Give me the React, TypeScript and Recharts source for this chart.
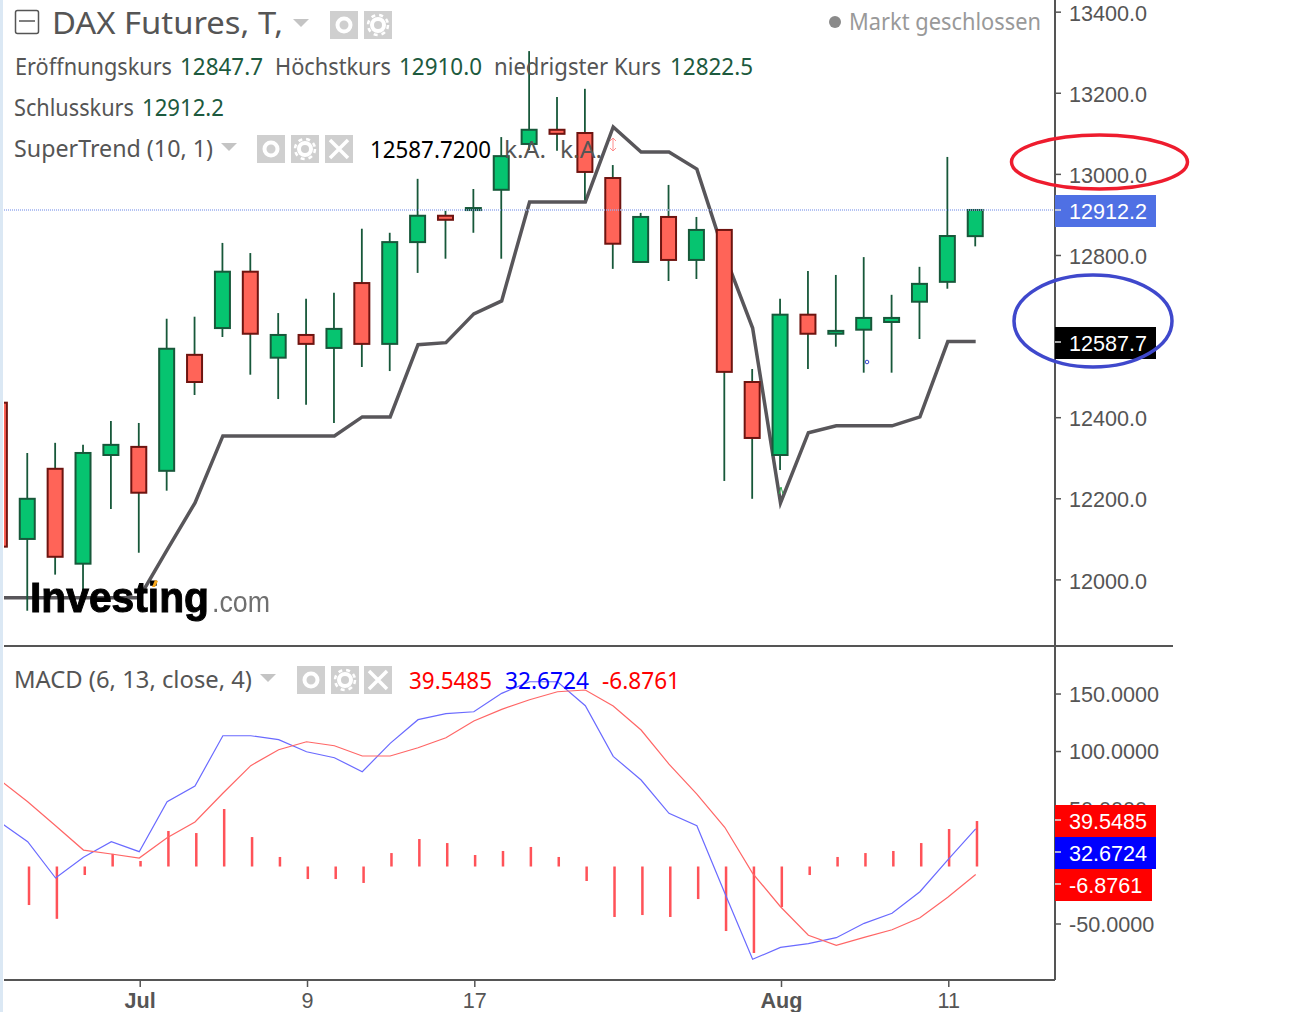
import React from "react"
import { ComposedChart, Bar, Line, XAxis, YAxis, ReferenceLine } from "recharts"

const indexes = [-1, 0, 1, 2, 3, 4, 5, 6, 7, 8, 9, 10, 11, 12, 13, 14, 15, 16, 17, 18, 19, 20, 21, 22, 23, 24, 25, 26, 27, 28, 29, 30, 31, 32, 33, 34]
const opens = [12437, 12101, 12274, 12040, 12308, 12328, 12269, 12555, 12621, 12760, 12548, 12604, 12572, 12732, 12582, 12833, 12898, 12912, 12962, 13075, 13110, 13102, 12991, 12784, 12895, 12789, 12863, 12488, 12308, 12654, 12607, 12617, 12636, 12686, 12735, 12847.7]
const closes = [12082, 12200, 12057, 12313, 12333, 12215, 12570, 12488, 12760, 12607, 12604, 12582, 12619, 12582, 12833, 12898, 12888, 12917, 13045, 13110, 13100, 13006, 12829, 12895, 12789, 12863, 12513, 12350, 12654, 12607, 12614, 12646, 12646, 12730, 12848, 12912.2]
const highs = [12460, 12313, 12338, 12333, 12392, 12387, 12644, 12649, 12831, 12806, 12658, 12693, 12708, 12866, 12856, 12989, 12910, 12964, 13092, 13304, 13191, 13211, 13023, 12905, 12974, 12895, 12863, 12520, 12693, 12762, 12752, 12796, 12703, 12772, 13043, 12912.2]
const lows = [12060, 11924, 12013, 11968, 12175, 12067, 12220, 12456, 12599, 12506, 12446, 12432, 12387, 12525, 12515, 12757, 12792, 12856, 12792, 13060, 13058, 12937, 12767, 12782, 12737, 12742, 12244, 12200, 12271, 12520, 12575, 12511, 12511, 12594, 12718, 12822.5]
const superTrend = [11956, 11956, 11956, 11956, 11956, 11956, 12074, 12190, 12355, 12355, 12355, 12355, 12355, 12402, 12402, 12580, 12585, 12656, 12688, 12932, 12932, 12932, 13117, 13055, 13055, 13013, 12801, 12621, 12190, 12363, 12380, 12380, 12380, 12402, 12587.7, 12587.7]
const macdLine = [38.7, 21.6, -10, 8, 21.6, 12.9, 56.3, 70, 113.7, 113.7, 110.3, 99.8, 94.6, 82.4, 107.1, 127.7, 132.9, 134.6, 150.6, 160.7, 160.7, 139.8, 95.8, 75.2, 46.3, 35.5, -23, -80.7, -70.3, -67.1, -61.9, -49.4, -40.7, -21.9, 5.7, 32.67]
const signalLine = [75.2, 56.3, 35.5, 14.3, 10.9, 7.4, 25, 38.7, 63.7, 87.7, 101.6, 108.5, 105, 96.1, 96.1, 103.3, 112, 126.5, 136.7, 145, 152, 153.5, 139.6, 118.7, 89.1, 63, 34.1, -5.9, -35, -59.8, -68.5, -61.6, -55, -44.5, -26.8, -6.88]
const histogram = [null, -33.5, -45.5, -7.4, 11, 4.8, 30.9, 29.1, 50, 25.6, 8.3, -10.9, -10.9, -14.3, 11.7, 23.9, 20.4, 10, 13.5, 17, 8.3, -12.6, -43.9, -42.2, -43.9, -28.3, -56.1, -75.2, -35.2, -7.4, 8.3, 11.7, 13.5, 20.4, 32.6, 39.55]

const priceTicks = [12000, 12200, 12400, 12800, 13000, 13200, 13400]
const macdTicks = [-50, 50, 100, 150]
const dateTicks = [4, 10, 16, 27, 33]
const dateLabels = ["Jul", "9", "17", "Aug", "11"]
const lastPrice = 12912.2

const candleData = indexes.map((x, i) => ({ x, open: opens[i], close: closes[i], high: highs[i], low: lows[i], trend: superTrend[i] }))
const macdData = indexes.map((x, i) => ({ x, macd: macdLine[i], signal: signalLine[i], hist: histogram[i] }))

const axisColor = "#555555"
const axisFont = "'Liberation Sans', Arial, sans-serif"
const headFont = "'Noto Sans', sans-serif"
const xDomain = [-0.85, 36.845]

const Candle = (props: any) => {
  const { x, y, width, height, payload } = props
  const perUnit = height / (payload.high - payload.low)
  const up = payload.close >= payload.open
  const top = y + (payload.high - Math.max(payload.open, payload.close)) * perUnit
  const bottom = y + (payload.high - Math.min(payload.open, payload.close)) * perUnit
  const cx = x + width / 2
  return (
    <g>
      <line x1={cx} x2={cx} y1={y} y2={y + height} stroke="#17583a" strokeWidth={1.8} />
      <rect
        x={x}
        y={top}
        width={width}
        height={Math.max(bottom - top, 0.5)}
        fill={up ? "#06c470" : "#ff6458"}
        stroke={up ? "#17583a" : "#6e1410"}
        strokeWidth={2}
      />
    </g>
  )
}

// negative values come in with a negative height
const HistBar = (props: any) => {
  const { x, y, width, height } = props
  return <rect x={x + 1} y={Math.min(y, y + height)} width={width} height={Math.abs(height)} fill="#ff5258" />
}

const DateTick = (props: any) => {
  const { x, y, payload } = props
  const label = dateLabels[dateTicks.indexOf(payload.value)]
  const bold = label === "Jul" || label === "Aug"
  return (
    <g>
      <line x1={x + 1} x2={x + 1} y1={y} y2={y + 7} stroke={axisColor} strokeWidth={1.5} />
      <text x={x + 1} y={y + 28} textAnchor="middle" fill={axisColor} fontSize={21.6} fontFamily={axisFont} fontWeight={bold ? 700 : 400}>
        {label}
      </text>
    </g>
  )
}

// text stretched to the width it has in the picture
const Label = ({ x, y, w, size = 24, color = axisColor, font = headFont, children }: any) => (
  <text x={x} y={y} textLength={w} lengthAdjust="spacingAndGlyphs" fontSize={size} fontFamily={font} fill={color}>
    {children}
  </text>
)

const Triangle = ({ x, y }: any) => <polygon points={`${x},${y} ${x + 16},${y} ${x + 8},${y + 8}`} fill="#c4c4c4" />

const IconBox = ({ x, y, kind }: any) => (
  <g>
    <rect x={x} y={y} width={28} height={28} fill="#cfcfcf" />
    {kind === "eye" && <circle cx={x + 14} cy={y + 14} r={6.5} fill="none" stroke="#fff" strokeWidth={4} />}
    {kind === "gear" && (
      <g>
        <circle cx={x + 14} cy={y + 14} r={6} fill="none" stroke="#fff" strokeWidth={4} />
        <circle cx={x + 14} cy={y + 14} r={10} fill="none" stroke="#fff" strokeWidth={2.5} strokeDasharray="4 4" />
      </g>
    )}
    {kind === "x" && <path d={`M${x + 5} ${y + 5}L${x + 23} ${y + 23}M${x + 23} ${y + 5}L${x + 5} ${y + 23}`} stroke="#fff" strokeWidth={3.5} />}
  </g>
)

const PriceBox = ({ y, w, fill, tickY, text }: any) => (
  <g>
    <rect x={1055} y={y} width={w} height={32} fill={fill} />
    <line x1={1055} x2={1061} y1={tickY} y2={tickY} stroke="#ddd" strokeWidth={1.5} />
    <text x={1069} y={y + 24} fontSize={21.6} fontFamily={axisFont} fill="#fff">
      {text}
    </text>
  </g>
)

const Overlay = () => (
  <svg width={1301} height={1012} style={{ position: "absolute", left: 0, top: 0, pointerEvents: "none" }}>
    <rect x={0} y={0} width={3} height={1012} fill="#dbe8f4" />
    <line x1={4} x2={1173} y1={646} y2={646} stroke={axisColor} strokeWidth={2} />

    <rect x={15.5} y={10.5} width={23} height={23} rx={2} fill="none" stroke={axisColor} strokeWidth={1.5} />
    <line x1={19} x2={35} y1={21} y2={21} stroke={axisColor} strokeWidth={1.5} />
    <Label x={52} y={34} w={231} size={31}>DAX Futures, T,</Label>
    <Triangle x={293} y={19} />
    <IconBox x={330} y={11} kind="eye" />
    <IconBox x={364} y={11} kind="gear" />
    <circle cx={835} cy={22} r={6} fill="#8a8a8a" />
    <Label x={849} y={30} w={192} color="#999999">Markt geschlossen</Label>

    <Label x={15} y={75} w={157}>Eröffnungskurs</Label>
    <Label x={180} y={75} w={83} color="#1d5a3e">12847.7</Label>
    <Label x={275} y={75} w={116}>Höchstkurs</Label>
    <Label x={399} y={75} w={83} color="#1d5a3e">12910.0</Label>
    <Label x={494} y={75} w={167}>niedrigster Kurs</Label>
    <Label x={670} y={75} w={83} color="#1d5a3e">12822.5</Label>
    <Label x={14} y={116} w={120}>Schlusskurs</Label>
    <Label x={142} y={116} w={82} color="#1d5a3e">12912.2</Label>
    <Label x={14} y={157} w={199}>SuperTrend (10, 1)</Label>
    <Triangle x={221} y={143} />
    <IconBox x={257} y={135} kind="eye" />
    <IconBox x={291} y={135} kind="gear" />
    <IconBox x={325} y={135} kind="x" />
    <Label x={370} y={158} w={121} color="#000000">12587.7200</Label>
    <Label x={504} y={158} w={42}>k.A.</Label>
    <Label x={560} y={158} w={42}>k.A.</Label>
    <path d="M613 138V151M610 141L613 138L616 141M610 148L613 151L616 148" fill="none" stroke="#ff8c8c" strokeWidth={1} />
    <path d="M781 487L779 494M781 487L783 494" stroke="#2fa84f" strokeWidth={1} />
    <circle cx={867} cy={362} r={1.8} fill="#fff" stroke="#3344cc" strokeWidth={1} />

    <g filter="url(#soft)">
      <text x={30} y={612} textLength={179} lengthAdjust="spacingAndGlyphs" fontSize={42} fontWeight={700} fontFamily={axisFont} fill="#000" stroke="#000" strokeWidth={1}>Investing</text>
      <text x={212} y={612} textLength={58} lengthAdjust="spacingAndGlyphs" fontSize={30} fontFamily={axisFont} fill="#6f6f6f">.com</text>
    </g>
    <defs>
      <filter id="soft"><feGaussianBlur stdDeviation={0.6} /></filter>
    </defs>
    <polygon points="152,587 155,580 158,581 155,587" fill="#f9a91d" />

    <PriceBox y={195} w={101} fill="#4f70e4" tickY={210} text="12912.2" />
    <PriceBox y={327} w={101} fill="#000000" tickY={342} text="12587.7" />

    <ellipse cx={1099.5} cy={162} rx={88} ry={27} fill="none" stroke="#ee1c2e" strokeWidth={3.5} />
    <ellipse cx={1093} cy={321} rx={79} ry={46} fill="none" stroke="#3f48cc" strokeWidth={3.5} />

    <Label x={14} y={688} w={238}>MACD (6, 13, close, 4)</Label>
    <Triangle x={260} y={674} />
    <IconBox x={297} y={666} kind="eye" />
    <IconBox x={331} y={666} kind="gear" />
    <IconBox x={364} y={666} kind="x" />
    <Label x={409} y={689} w={83} color="#ff0000">39.5485</Label>
    <Label x={505} y={689} w={84} color="#0000ff">32.6724</Label>
    <Label x={602} y={689} w={78} color="#ff0000">-6.8761</Label>

    <PriceBox y={805} w={101} fill="#ff0000" tickY={820} text="39.5485" />
    <PriceBox y={837} w={101} fill="#0000ff" tickY={852} text="32.6724" />
    <PriceBox y={869} w={97} fill="#ff0000" tickY={884} text="-6.8761" />
  </svg>
)

export default function App() {
  return (
    <div style={{ position: "absolute", left: 0, top: 0, width: 1301, height: 1012, overflow: "hidden", background: "#fff" }}>
      <div style={{ position: "absolute", left: 0, top: 0 }}>
        <ComposedChart width={1301} height={646} data={candleData} margin={{ top: 0, right: 0, bottom: 0, left: 4 }}>
          <XAxis dataKey="x" type="number" domain={xDomain} allowDataOverflow ticks={dateTicks} hide />
          <YAxis
            orientation="right"
            width={246}
            domain={[11837, 13430]}
            allowDataOverflow
            ticks={priceTicks}
            interval={0}
            tickFormatter={(v: number) => v.toFixed(1)}
            tick={{ fill: axisColor, fontSize: 21.6, fontFamily: axisFont, dy: 1 }}
            tickSize={6}
            tickMargin={8}
            axisLine={{ stroke: axisColor, strokeWidth: 2 }}
            tickLine={{ stroke: axisColor, strokeWidth: 1.5 }}
          />
          <ReferenceLine y={lastPrice} stroke="#9aaef0" strokeWidth={1.5} strokeDasharray="1 1" />
          <Line dataKey="trend" stroke="#58565a" strokeWidth={3.5} dot={false} isAnimationActive={false} {...({ zIndex: 200 } as any)} />
          <Bar dataKey={(d: any) => [d.low, d.high]} barSize={15} shape={<Candle />} isAnimationActive={false} {...({ zIndex: 300 } as any)} />
        </ComposedChart>
      </div>
      <div style={{ position: "absolute", left: 0, top: 646 }}>
        <ComposedChart width={1301} height={366} data={macdData} margin={{ top: 1, right: 0, bottom: 0, left: 4 }}>
          <XAxis
            dataKey="x"
            type="number"
            domain={xDomain}
            allowDataOverflow
            ticks={dateTicks}
            interval={0}
            height={32}
            tick={<DateTick />}
            tickSize={0}
            tickMargin={0}
            tickLine={false}
            axisLine={{ stroke: axisColor, strokeWidth: 2 }}
          />
          <YAxis
            orientation="right"
            width={246}
            domain={[-98.7, 190.9]}
            allowDataOverflow
            ticks={macdTicks}
            interval={0}
            tickFormatter={(v: number) => v.toFixed(4)}
            tick={{ fill: axisColor, fontSize: 21.6, fontFamily: axisFont }}
            tickSize={6}
            tickMargin={8}
            axisLine={{ stroke: axisColor, strokeWidth: 2 }}
            tickLine={{ stroke: axisColor, strokeWidth: 1.5 }}
          />
          <Bar dataKey="hist" barSize={2.5} shape={<HistBar />} isAnimationActive={false} />
          <Line dataKey="macd" stroke="#6a6aff" strokeWidth={1.2} dot={false} isAnimationActive={false} />
          <Line dataKey="signal" stroke="#ff6666" strokeWidth={1.2} dot={false} isAnimationActive={false} />
        </ComposedChart>
      </div>
      <Overlay />
    </div>
  )
}
